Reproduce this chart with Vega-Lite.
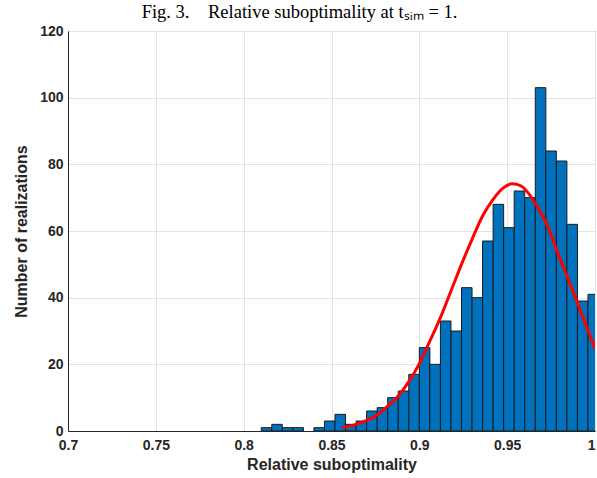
{
  "$schema": "https://vega.github.io/schema/vega-lite/v6.json",
  "width": 527,
  "height": 400,
  "autosize": {"type": "none"},
  "padding": {"left": 68, "top": 31, "right": 2, "bottom": 47},
  "background": "white",
  "config": {
    "view": {"stroke": "#262626", "strokeWidth": 1},
    "axis": {
      "labelFont": "Liberation Sans",
      "labelFontWeight": "bold",
      "labelFontSize": 14,
      "labelColor": "#262626",
      "titleFont": "Liberation Sans",
      "titleFontWeight": "bold",
      "titleFontSize": 16,
      "titleColor": "#262626",
      "domainColor": "#262626",
      "ticks": false,
      "gridColor": "#e3e3e3",
      "gridOpacity": 1,
      "labelFlush": false
    }
  },
  "title": {
    "text": "Fig. 3.\u00a0\u00a0\u00a0\u00a0Relative suboptimality at tₛᵢₘ = 1.",
    "font": "Liberation Serif",
    "fontSize": 18.5,
    "fontWeight": "normal",
    "color": "#000000",
    "anchor": "middle",
    "dx": -32,
    "offset": 3
  },
  "layer": [
    {
      "data": {
        "values": [
          {"start": 0.810, "end": 0.816, "count": 1},
          {"start": 0.816, "end": 0.822, "count": 2},
          {"start": 0.822, "end": 0.828, "count": 1},
          {"start": 0.828, "end": 0.834, "count": 1},
          {"start": 0.840, "end": 0.846, "count": 1},
          {"start": 0.846, "end": 0.852, "count": 3},
          {"start": 0.852, "end": 0.858, "count": 5},
          {"start": 0.858, "end": 0.864, "count": 2},
          {"start": 0.864, "end": 0.870, "count": 3},
          {"start": 0.870, "end": 0.876, "count": 6},
          {"start": 0.876, "end": 0.882, "count": 7},
          {"start": 0.882, "end": 0.888, "count": 10},
          {"start": 0.888, "end": 0.894, "count": 12},
          {"start": 0.894, "end": 0.900, "count": 17},
          {"start": 0.900, "end": 0.906, "count": 25},
          {"start": 0.906, "end": 0.912, "count": 20},
          {"start": 0.912, "end": 0.918, "count": 33},
          {"start": 0.918, "end": 0.924, "count": 30},
          {"start": 0.924, "end": 0.930, "count": 43},
          {"start": 0.930, "end": 0.936, "count": 40},
          {"start": 0.936, "end": 0.942, "count": 57},
          {"start": 0.942, "end": 0.948, "count": 68},
          {"start": 0.948, "end": 0.954, "count": 61},
          {"start": 0.954, "end": 0.960, "count": 72},
          {"start": 0.960, "end": 0.966, "count": 70},
          {"start": 0.966, "end": 0.972, "count": 103},
          {"start": 0.972, "end": 0.978, "count": 84},
          {"start": 0.978, "end": 0.984, "count": 81},
          {"start": 0.984, "end": 0.990, "count": 62},
          {"start": 0.990, "end": 0.996, "count": 39},
          {"start": 0.996, "end": 1.002, "count": 41}
        ]
      },
      "mark": {"type": "bar", "fill": "#0072BD", "stroke": "#1a1a1a", "strokeWidth": 1, "clip": true},
      "encoding": {
        "x": {
          "field": "start", "type": "quantitative",
          "scale": {"domain": [0.7, 1.0], "nice": false, "zero": false},
          "axis": {
            "title": "Relative suboptimality",
            "values": [0.7, 0.75, 0.8, 0.85, 0.9, 0.95, 1.0],
            "format": ".2~f",
            "grid": true,
            "labelPadding": 7,
            "titlePadding": 4,
            "labelAlign": {"condition": {"test": "datum.value == 1", "value": "right"}, "value": "center"}
          }
        },
        "x2": {"field": "end"},
        "y": {
          "field": "count", "type": "quantitative",
          "scale": {"domain": [0, 120], "nice": false},
          "axis": {
            "title": "Number of realizations",
            "values": [0, 20, 40, 60, 80, 100, 120],
            "grid": true,
            "labelPadding": 5,
            "titlePadding": 10
          }
        },
        "y2": {"datum": 0}
      }
    },
    {
      "data": {
        "values": [
          {"x": 0.856, "y": 1.0},
          {"x": 0.864, "y": 2.0},
          {"x": 0.870, "y": 3.2},
          {"x": 0.876, "y": 4.8},
          {"x": 0.882, "y": 7.5},
          {"x": 0.888, "y": 10.5},
          {"x": 0.894, "y": 14.8},
          {"x": 0.900, "y": 20.2},
          {"x": 0.906, "y": 27.0},
          {"x": 0.912, "y": 34.0},
          {"x": 0.918, "y": 42.0},
          {"x": 0.924, "y": 50.0},
          {"x": 0.930, "y": 57.5},
          {"x": 0.936, "y": 64.5},
          {"x": 0.942, "y": 69.5},
          {"x": 0.948, "y": 73.0},
          {"x": 0.953, "y": 74.2},
          {"x": 0.958, "y": 73.5},
          {"x": 0.963, "y": 70.7},
          {"x": 0.968, "y": 66.5},
          {"x": 0.973, "y": 61.5},
          {"x": 0.978, "y": 54.5},
          {"x": 0.984, "y": 46.5},
          {"x": 0.990, "y": 38.5},
          {"x": 0.995, "y": 31.5},
          {"x": 1.000, "y": 24.7}
        ]
      },
      "mark": {"type": "line", "color": "#FF0000", "strokeWidth": 3, "interpolate": "monotone", "clip": true},
      "encoding": {
        "x": {"field": "x", "type": "quantitative"},
        "y": {"field": "y", "type": "quantitative"}
      }
    }
  ]
}
